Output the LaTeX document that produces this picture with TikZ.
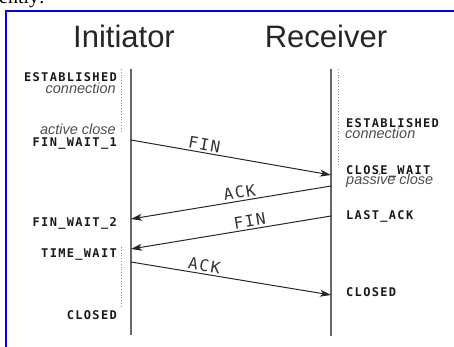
\documentclass[tikz,border=0pt]{standalone}
\usepackage{fontspec}
\setmainfont{Liberation Sans}
\newfontfamily\serifpart{Liberation Serif}
\newfontfamily\statefont[LetterSpace=11]{DejaVu Sans Mono}
\newfontfamily\msgfont[LetterSpace=10]{DejaVu Sans Mono}
\usetikzlibrary{positioning,arrows.meta}

\begin{document}
\begin{tikzpicture}[x=1pt,y=-1pt,
    lifeline/.style={draw=black!60, line width=1.5pt},
    dotline/.style={draw=black!45, dotted, line width=0.8pt},
    msg/.style={draw=black!85, line width=1pt, -{Stealth[length=11pt,width=7pt,inset=3pt]}},
    msglabel/.style={font=\msgfont\fontsize{16}{16}\selectfont, text=black!80, inner sep=2pt},
    state/.style={font=\statefont\bfseries\fontsize{12}{12}\selectfont, text=black!90, inner sep=0pt},
    note/.style={font=\itshape\fontsize{14.5}{14.5}\selectfont, text=black!70, inner sep=0pt},
    title/.style={font=\fontsize{31}{31}\selectfont, text=black!85, inner sep=0pt}]

    \useasboundingbox (0,0) rectangle (454,347);

    % Frame and cut-off text of the page
    \begin{scope}
      \clip (0,0) rectangle (454,9);
      \node[anchor=base west, inner sep=0pt, font=\serifpart\fontsize{20}{20}\selectfont] (cut) at (-1,4) {ently:};
    \end{scope}
    \draw[blue, line width=2.5pt] (6,347) -- (6,11) -- (454,11);

    % Titles
    \node[title, anchor=base] (ini) at (124,48) {Initiator};
    \node[title, anchor=base] (rcv) at (326,48) {Receiver};

    % Draw lifelines
    \coordinate (itop) at (131,69);
    \coordinate (ibot) at (131,335);
    \coordinate (rtop) at (331,69);
    \coordinate (rbot) at (331,336);
    \draw[lifeline] (itop) -- (ibot);
    \draw[lifeline] (rtop) -- (rbot);

    % Waiting periods
    \draw[dotline] (121,69) -- (121,131);
    \draw[dotline] (121,247) -- (121,306);
    \draw[dotline] (338,69) -- (338,166);

    % Points where the messages leave and arrive
    \foreach \n/\yi/\yr in {a/140/175, b/219/186, c/249/216, d/262/295} {
      \coordinate (i\n) at (131,\yi);
      \coordinate (r\n) at (331,\yr);
    }

    % Draw messages
    \foreach \s/\t/\m/\p in {ia/ra/FIN/0.36, rb/ib/ACK/0.45, rc/ic/FIN/0.40, id/rd/ACK/0.36} {
      \draw[msg] (\s) -- node[msglabel, pos=\p, sloped, above] {\m} (\t);
    }

    % States of the initiator
    \foreach \y/\s/\k in {82/ESTABLISHED/ie, 147/FIN\_WAIT\_1/ifa, 226/FIN\_WAIT\_2/ifb, 257/TIME\_WAIT/itw, 319/CLOSED/icl} {
      \node[state, anchor=base east] (\k) at (117,\y) {\s};
    }
    \node[note, anchor=base east] (iconn) at (116,94) {connection};
    \node[note, anchor=base east] (iact) at (116,135) {active close};

    % States of the receiver
    \foreach \y/\s/\k in {128/ESTABLISHED/re, 175/CLOSE\_WAIT/rcw, 219/LAST\_ACK/rla, 296/CLOSED/rcl} {
      \node[state, anchor=base west] (\k) at (346,\y) {\s};
    }
    \node[note, anchor=base west] (rconn) at (345,139) {connection};
    \node[note, anchor=base west] (rpas) at (346,185) {passive close};

\end{tikzpicture}
\end{document}
